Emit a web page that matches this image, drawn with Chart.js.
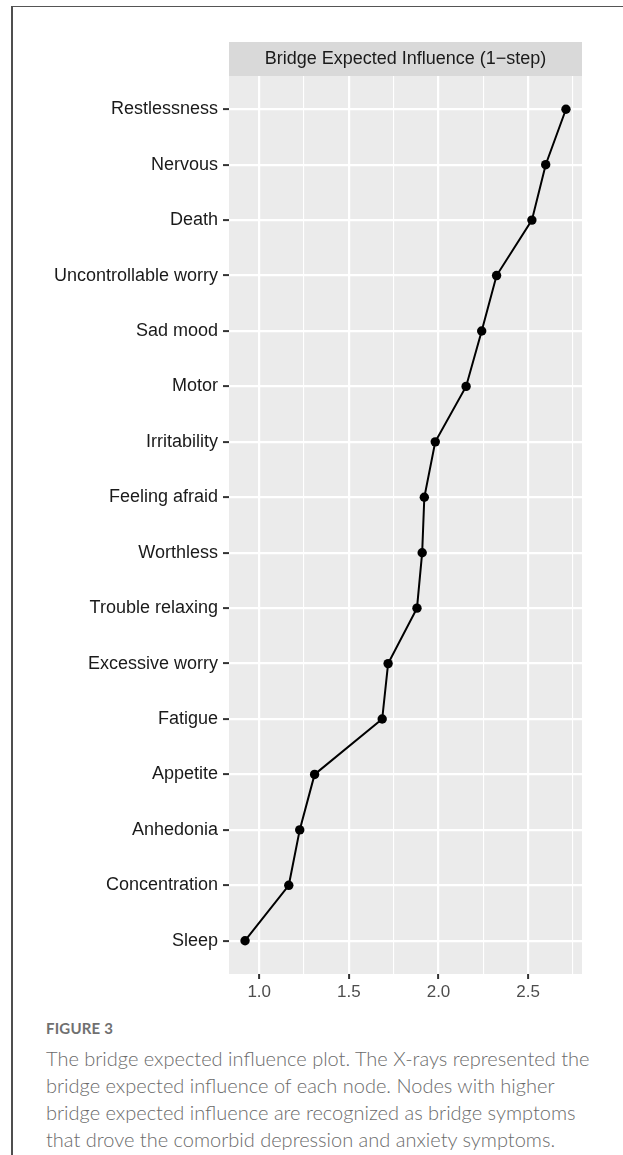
<!DOCTYPE html>
<html>
<head>
<meta charset="utf-8">
<script src="https://cdn.jsdelivr.net/npm/chart.js@4/dist/chart.umd.min.js"></script>
<style>
  html, body { margin: 0; padding: 0; background: #fff; }
  #page { position: relative; width: 623px; height: 1155px; overflow: hidden; }
  #frameTop { position: absolute; left: 12px; top: 6px; width: 611px; height: 0; border-top: 1.5px solid #555; }
  #frameLeft { position: absolute; left: 11px; top: 6px; width: 0; height: 1149px; border-left: 2px solid #4f4f4f; }
  #chart { position: absolute; left: 0; top: 0; }
  #caption { position: absolute; left: 46px; top: 1018px; width: 577px; font-family: Lato, "Open Sans", sans-serif; color: #6b6b6b; white-space: nowrap; }
  #caption .fig { font-size: 15px; font-weight: 700; letter-spacing: 0.2px; color: #707070; line-height: 20px; }
  #caption .txt { font-size: 20px; font-weight: 300; line-height: 27px; margin-top: 7px; }
</style>
</head>
<body>
<div id="page">
  <div id="frameTop"></div>
  <div id="frameLeft"></div>
  <canvas id="chart" width="623" height="1010"></canvas>
  <div id="caption">
    <div class="fig">FIGURE 3</div>
    <div class="txt">The bridge expected influence plot. The X-rays represented the<br>bridge expected influence of each node. Nodes with higher<br>bridge expected influence are recognized as bridge symptoms<br>that drove the comorbid depression and anxiety symptoms.</div>
  </div>
</div>
<script>
// Symptom nodes, top to bottom
const symptoms = [
  'Restlessness', 'Nervous', 'Death', 'Uncontrollable worry', 'Sad mood',
  'Motor', 'Irritability', 'Feeling afraid', 'Worthless', 'Trouble relaxing',
  'Excessive worry', 'Fatigue', 'Appetite', 'Anhedonia', 'Concentration', 'Sleep'
];
// Bridge expected influence (1-step) per node
const bridgeEI = [
  2.711, 2.598, 2.521, 2.324, 2.241,
  2.154, 1.982, 1.921, 1.909, 1.880,
  1.719, 1.686, 1.309, 1.226, 1.165, 0.921
];
const xMajorTicks = [1.0, 1.5, 2.0, 2.5];
const xTickLabels = ['1.0', '1.5', '2.0', '2.5'];
const xMinorTicks = [1.25, 1.75, 2.25, 2.75];
const stripTitle = 'Bridge Expected Influence (1\u2212step)';

const FONT = '"Liberation Sans", Arial, Helvetica, sans-serif';

// ggplot-style 5% expansion around the data range
const lo = Math.min(...bridgeEI), hi = Math.max(...bridgeEI);
const span = hi - lo;
const xMin = lo - 0.05 * span, xMax = hi + 0.05 * span;

const isMajor = v => xMajorTicks.some(t => Math.abs(t - v) < 1e-9);

const panelPlugin = {
  id: 'panel',
  beforeDraw(chart) {
    const { ctx, chartArea: a } = chart;
    ctx.save();
    ctx.fillStyle = '#ebebeb';
    ctx.fillRect(a.left, a.top, a.right - a.left, a.bottom - a.top);
    // facet strip
    ctx.fillStyle = '#d9d9d9';
    ctx.fillRect(a.left, a.top - 34, a.right - a.left, 34);
    ctx.fillStyle = '#1a1a1a';
    ctx.font = '18px ' + FONT;
    ctx.textAlign = 'center';
    ctx.textBaseline = 'middle';
    ctx.fillText(stripTitle, (a.left + a.right) / 2, a.top - 16.5);
    ctx.restore();
  }
};

new Chart(document.getElementById('chart'), {
  type: 'line',
  data: {
    datasets: [{
      data: bridgeEI.map((v, i) => ({ x: v, y: i })),
      borderColor: '#000',
      backgroundColor: '#000',
      borderWidth: 2,
      pointRadius: 4.7,
      pointHoverRadius: 4.7,
      pointBorderWidth: 0,
      tension: 0,
      clip: false
    }]
  },
  options: {
    responsive: false,
    animation: false,
    devicePixelRatio: 1,
    layout: { padding: { left: 0, right: 41, top: 76, bottom: 0 } },
    plugins: { legend: { display: false }, tooltip: { enabled: false } },
    scales: {
      x: {
        type: 'linear',
        min: xMin,
        max: xMax,
        afterBuildTicks: s => {
          s.ticks = [...xMajorTicks, ...xMinorTicks].sort((a, b) => a - b).map(v => ({ value: v }));
        },
        afterFit: s => { s.height = 36; },
        border: { display: false },
        grid: {
          color: '#ffffff',
          lineWidth: c => (c.tick && isMajor(c.tick.value)) ? 2.2 : 1.1,
          tickColor: c => (c.tick && isMajor(c.tick.value)) ? '#333333' : 'rgba(0,0,0,0)',
          tickWidth: 2,
          tickLength: 5
        },
        ticks: {
          autoSkip: false,
          maxRotation: 0,
          padding: 3,
          color: '#4d4d4d',
          font: { family: FONT, size: 17 },
          callback: v => {
            const k = xMajorTicks.findIndex(t => Math.abs(t - v) < 1e-9);
            return k >= 0 ? xTickLabels[k] : '';
          }
        }
      },
      y: {
        type: 'linear',
        reverse: true,
        min: -0.6,
        max: symptoms.length - 1 + 0.6,
        afterBuildTicks: s => { s.ticks = symptoms.map((_, i) => ({ value: i })); },
        afterFit: s => { s.width = 229; },
        border: { display: false },
        grid: {
          color: '#ffffff',
          lineWidth: 2.2,
          tickColor: '#333333',
          tickWidth: 2,
          tickLength: 6
        },
        ticks: {
          autoSkip: false,
          padding: 5,
          color: '#1a1a1a',
          font: { family: FONT, size: 18 },
          callback: v => symptoms[v]
        }
      }
    }
  },
  plugins: [panelPlugin]
});
</script>
</body>
</html>
